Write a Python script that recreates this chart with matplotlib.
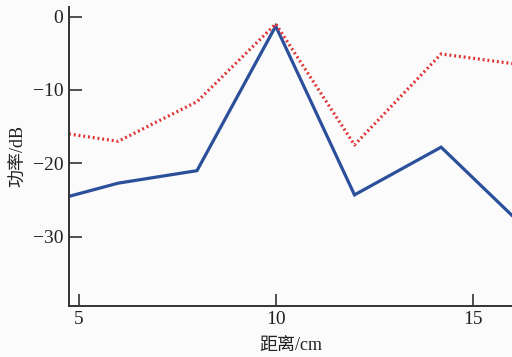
import matplotlib
matplotlib.use("Agg")
import matplotlib.pyplot as plt

# distance (cm) and power (dB)
distance = [4.75, 6, 8, 10, 12, 14.2, 16]
power_solid = [-24.5, -22.7, -21.0, -1.3, -24.3, -17.8, -27.1]
power_dotted = [-16.0, -17.0, -11.6, -1.0, -17.5, -5.1, -6.4]

xticks = [5, 10, 15]
yticks = [0, -10, -20, -30]

fonts = ["Liberation Serif", "Noto Sans CJK SC", "DejaVu Sans"]
plt.rcParams["font.family"] = fonts
plt.rcParams["axes.unicode_minus"] = True

fig = plt.figure(figsize=(5.12, 3.57), dpi=100, facecolor="#fbfbfb")
ax = fig.add_axes([0.1348, 0.1437, 0.8652, 0.8367])
ax.set_facecolor("#fbfbfb")

ax.plot(distance, power_solid, color="#2b4f9a", lw=2.3, solid_joinstyle="miter")
ax.plot(distance, power_dotted, color="#e03232", lw=2.3, ls=(0, (0.6, 0.9)))

ax.set_xlim(4.75, 16)
ax.set_ylim(-39.4, 1.3)
ax.set_xticks(xticks)
ax.set_yticks(yticks)
ax.set_yticklabels(["0", "\u221210", "\u221220", "\u221230"])

for s in ["top", "right"]:
    ax.spines[s].set_visible(False)
for s in ["left", "bottom"]:
    ax.spines[s].set_color("#333333")
    ax.spines[s].set_linewidth(1.4)

ax.tick_params(direction="in", length=9, width=1.2, color="#333333",
               labelsize=14, labelcolor="#222222", pad=4)

ax.set_xlabel("距离/cm", fontsize=13, color="#222222", labelpad=6)
ax.set_ylabel("功率/dB", fontsize=13, color="#222222", labelpad=4)

fig.savefig("out.png", dpi=100, facecolor=fig.get_facecolor())
